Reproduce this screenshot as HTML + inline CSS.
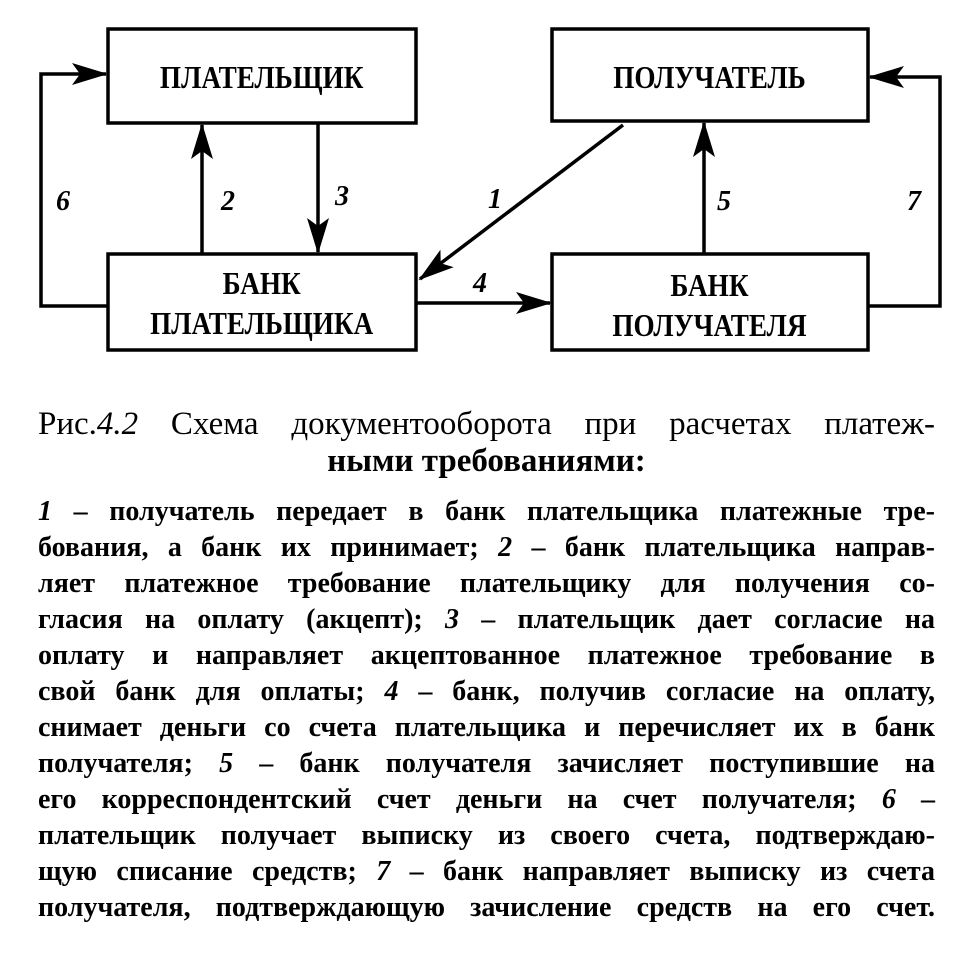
<!DOCTYPE html>
<html><head><meta charset="utf-8"><style>
html,body{margin:0;padding:0;background:#fff;}
body{width:980px;height:976px;position:relative;overflow:hidden;font-family:"Liberation Serif","DejaVu Serif",serif;color:#000;}
svg{position:absolute;left:0;top:0;}
.t{position:absolute;left:38px;width:897px;}
.l{height:36px;line-height:36px;font-size:28px;font-weight:bold;text-align:justify;text-align-last:justify;white-space:nowrap;}
.cap{font-size:33px;line-height:37px;}
</style></head><body>
<svg width="980" height="380" viewBox="0 0 980 380">
<defs>
<marker id="b" markerWidth="36" markerHeight="22" refX="34" refY="11" orient="auto" markerUnits="userSpaceOnUse"><path d="M0,0 L36,11 L0,22 L8,11Z" fill="#000"/></marker></defs>
<g fill="none" stroke="#000" stroke-width="3.5">
<rect x="108" y="29" width="308" height="94"/>
<rect x="552" y="29" width="316" height="92"/>
<rect x="108" y="254" width="308" height="96"/>
<rect x="552" y="254" width="316" height="96"/>
<path d="M108,306 H41 V74 H106" marker-end="url(#b)"/>
<path d="M868,306 H940 V77 H870" marker-end="url(#b)"/>
<path d="M202,254 V125" marker-end="url(#b)"/>
<path d="M318,123 V252" marker-end="url(#b)"/>
<path d="M704,254 V123" marker-end="url(#b)"/>
<path d="M416,303 H550" marker-end="url(#b)"/>
<path d="M623,125 L420,279" marker-end="url(#b)"/>
</g>
<g font-family="Liberation Serif, serif" font-size="32" text-anchor="middle" font-weight="bold">
<text x="262" y="88" transform="translate(39,0) scale(0.85,1)">ПЛАТЕЛЬЩИК</text>
<text x="710" y="88" transform="translate(106,0) scale(0.85,1)">ПОЛУЧАТЕЛЬ</text>
<text x="262" y="294" transform="translate(39,0) scale(0.85,1)">БАНК</text>
<text x="262" y="334" transform="translate(39,0) scale(0.85,1)">ПЛАТЕЛЬЩИКА</text>
<text x="710" y="296" transform="translate(106,0) scale(0.85,1)">БАНК</text>
<text x="710" y="336" transform="translate(106,0) scale(0.85,1)">ПОЛУЧАТЕЛЯ</text>
<g font-style="italic" font-size="28">
<text x="63" y="210">6</text><text x="228" y="210">2</text><text x="342" y="205">3</text>
<text x="495" y="208">1</text><text x="724" y="210">5</text><text x="914" y="210">7</text>
<text x="480" y="292">4</text></g>
</g>
</svg>
<div class="t" style="top:406px;">
<div class="cap" style="text-align:justify;text-align-last:justify;">Рис.<i>4.2</i> Схема документооборота при расчетах платеж-</div>
<div class="cap" style="text-align:center;font-weight:bold;">ными требованиями:</div>
</div>
<div class="t" style="top:494px;">
<div class="l"><i>1</i> – получатель передает в банк плательщика платежные тре-</div>
<div class="l">бования, а банк их принимает; <i>2</i> – банк плательщика направ-</div>
<div class="l">ляет платежное требование плательщику для получения со-</div>
<div class="l">гласия на оплату (акцепт); <i>3</i> – плательщик дает согласие на</div>
<div class="l">оплату и направляет акцептованное платежное требование в</div>
<div class="l">свой банк для оплаты; <i>4</i> – банк, получив согласие на оплату,</div>
<div class="l">снимает деньги со счета плательщика и перечисляет их в банк</div>
<div class="l">получателя; <i>5</i> – банк получателя зачисляет поступившие на</div>
<div class="l">его корреспондентский счет деньги на счет получателя; <i>6</i> –</div>
<div class="l">плательщик получает выписку из своего счета, подтверждаю-</div>
<div class="l">щую списание средств; <i>7</i> – банк направляет выписку из счета</div>
<div class="l">получателя, подтверждающую зачисление средств на его счет.</div>
</div>
</body></html>
